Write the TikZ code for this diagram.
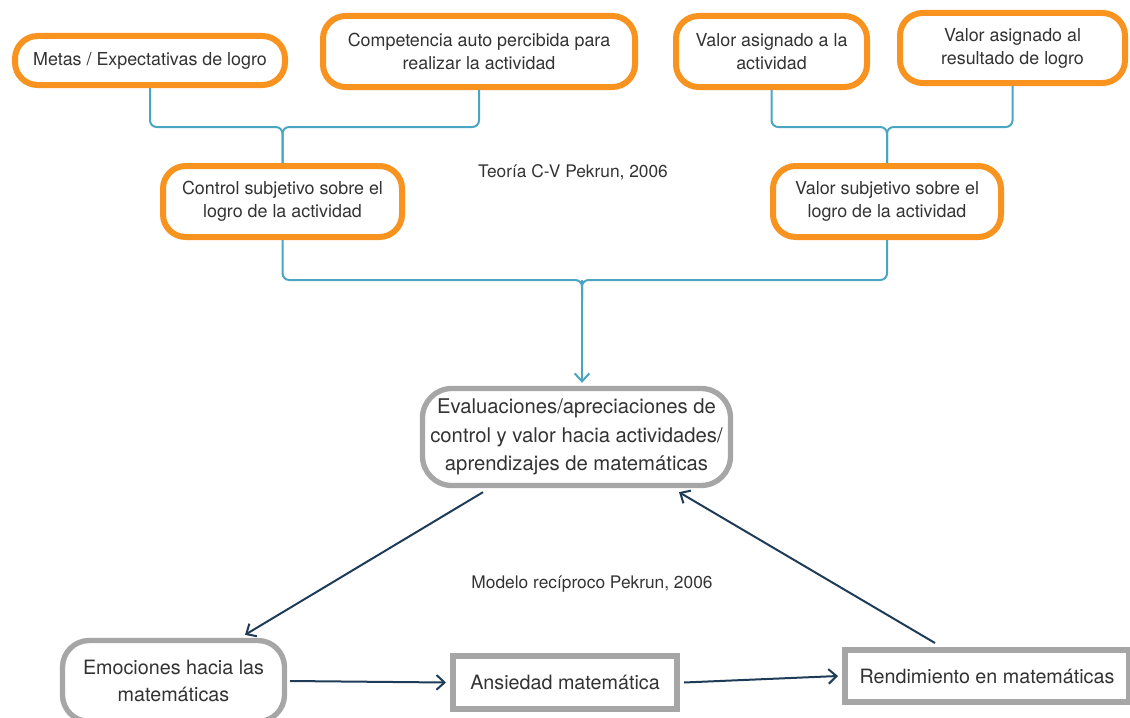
\documentclass[tikz,border=0pt]{standalone}
\usepackage{fontspec}
\setmainfont{TeX Gyre Heros}
\usetikzlibrary{arrows.meta,calc}
\definecolor{orangeb}{HTML}{F7931E}
\definecolor{grayb}{HTML}{A6A6A6}
\definecolor{tealc}{HTML}{4AA5C2}
\definecolor{navyc}{HTML}{1E3C58}
\definecolor{txt}{HTML}{333333}
\begin{document}
\begin{tikzpicture}[x=0.75pt,y=-0.75pt,
  every node/.style={font=\fontsize{13.4}{17.3}\selectfont, text=txt, align=center},
  obox/.style={draw=orangeb, line width=4.5pt, rounded corners=17pt, fill=white, inner sep=0pt},
  gbox/.style={draw=grayb, line width=4pt, rounded corners=20pt, fill=white, inner sep=0pt},
  rbox/.style={draw=grayb, line width=4.5pt, fill=white, inner sep=0pt},
  big/.style={font=\fontsize{14.8}{20}\selectfont},
  bigger/.style={font=\fontsize{15.2}{21.4}\selectfont},
  conn/.style={draw=tealc, line width=1.5pt, rounded corners=5pt},
  carrow/.style={draw=tealc, line width=1.5pt, -{Straight Barb[length=6pt,width=11pt]}},
  narrow/.style={draw=navyc, line width=1.5pt, -{Straight Barb[length=6pt,width=11pt]}},
  lbl/.style={font=\fontsize{13}{16}\selectfont}
]
\useasboundingbox (0,0) rectangle (1130,717);

% expectancy / control branch
\node[obox, minimum width=202.5pt, minimum height=36.75pt] (met) at (150,60.5) {Metas / Expectativas de logro};
\node[obox, minimum width=234pt, minimum height=53.25pt] (comp) at (479,51.5) {Competencia auto percibida para\\realizar la actividad};
\node[obox, minimum width=179.25pt, minimum height=53.25pt] (ctrl) at (282.5,201.5) {Control subjetivo sobre el\\logro de la actividad};

% value branch
\node[obox, minimum width=143.25pt, minimum height=53.25pt] (vact) at (771.5,51.5) {Valor asignado a la\\actividad};
\node[obox, minimum width=168.75pt, minimum height=52.5pt] (vres) at (1012.5,48) {Valor asignado al\\resultado de logro};
\node[obox, minimum width=171pt, minimum height=53.25pt] (vsub) at (887,201.5) {Valor subjetivo sobre el\\logro de la actividad};

% appraisals and reciprocal model
\node[gbox, bigger, minimum width=231pt, minimum height=72.75pt, rounded corners=22pt] (eval) at (576.5,437) {Evaluaciones/apreciaciones de\\control y valor hacia actividades/\\aprendizajes de matemáticas};
\node[gbox, big, minimum width=166.5pt, minimum height=60.75pt] (emo) at (173.5,681) {Emociones hacia las\\matemáticas};
\node[rbox, big, minimum width=168pt, minimum height=39.75pt] (ans) at (565,682.5) {Ansiedad matemática};
\node[rbox, big, minimum width=213pt, minimum height=39pt] (rend) at (987,676) {Rendimiento en matemáticas};

% labels
\node[lbl] (tcv) at (573,172) {Teoría C-V Pekrun, 2006};
\node[lbl] (mrp) at (592,584) {Modelo recíproco Pekrun, 2006};

% brackets
\coordinate (jA) at (282.5,127);
\coordinate (jB) at (887,127);
\coordinate (jC) at (582,280);
\draw[conn] (met.south) |- (jA) -- (ctrl.north);
\draw[conn] (comp.south) |- (jA) -- (ctrl.north);
\draw[conn] (vact.south) |- (jB) -- (vsub.north);
\draw[conn] (vres.south) |- (jB) -- (vsub.north);
\draw[conn] (ctrl.south) |- (jC) -- ++(0,20);
\draw[conn] (vsub.south) |- (jC) -- ++(0,20);
\draw[carrow] (jC) -- ($(jC |- eval.north)+(0,-3)$);

% reciprocal arrows
\draw[narrow] ($(483,0 |- eval.south)+(0,4)$) -- ($(245,0 |- emo.north)+(0,-3)$);
\draw[narrow] (emo.east) ++(3,0) -- ($(ans.west)+(-4,0)$);
\draw[narrow] ($(ans.east)+(4,0)$) -- ($(rend.west)+(-4,0)$);
\draw[narrow] ($(935,0 |- rend.north)+(0,-4)$) -- ($(679,0 |- eval.south)+(0,4)$);
\end{tikzpicture}
\end{document}
